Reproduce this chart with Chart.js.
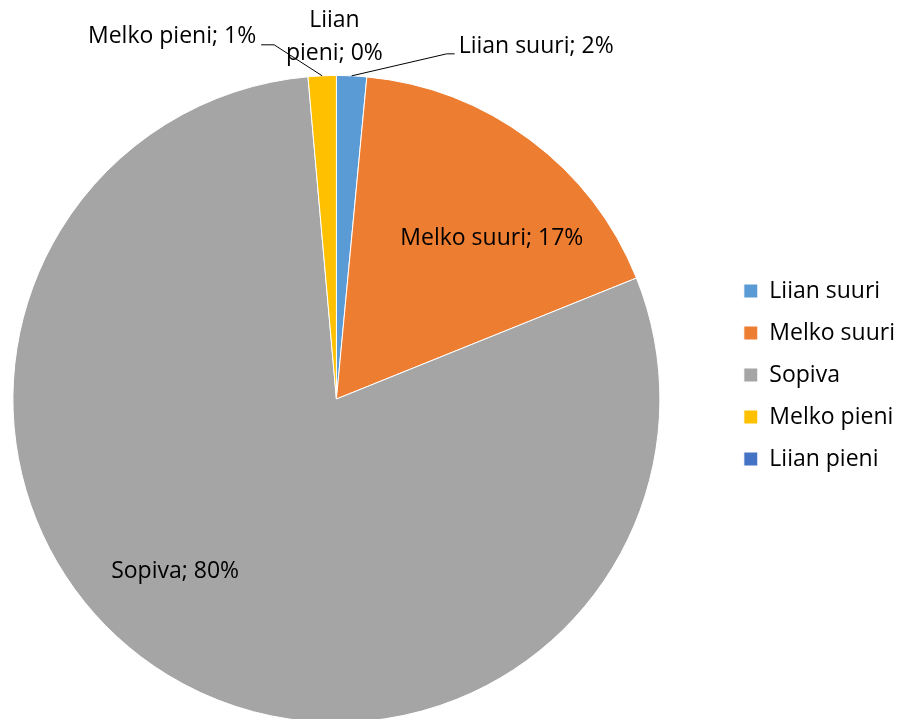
<!DOCTYPE html>
<html>
<head>
<meta charset="utf-8">
<script src="https://cdn.jsdelivr.net/npm/chart.js@4/dist/chart.umd.min.js"></script>
<style>
  html, body { margin: 0; padding: 0; background: #fff; overflow: hidden; width: 903px; height: 719px; }
  /* the pie runs past the left/bottom of the picture, so the canvas is a bit larger than the page */
  #wrap { position: absolute; left: -52px; top: 0; width: 957px; height: 741px; }
</style>
</head>
<body>
<div id="wrap"><canvas id="pieChart"></canvas></div>
<script>
// Pie data
const categories = ["Liian suuri", "Melko suuri", "Sopiva", "Melko pieni", "Liian pieni"];
const shares = [1.5, 17.4, 79.7, 1.4, 0.0]; // percent
const percentLabels = ["2%", "17%", "80%", "1%", "0%"];
const sliceColors = ["#5B9BD5", "#ED7D31", "#A5A5A5", "#FFC000", "#4472C4"];

const FONT = "'Open Sans', sans-serif";
const FONT_SIZE = 23;

// inside labels: nudge from 0.7r on the mid angle
const insideLabels = {
  1: { dx: 20, dy: 21 },
  2: { dx: -43, dy: -21 },
};
// outside labels with leader lines, relative to slice mid point on the rim
const outsideLabels = {
  0: { lines: ["Liian suuri; 2%"], dx: 107, dy: -29, align: "left", leader: [[95, -22], [103, -22]] },
  3: { lines: ["Melko pieni; 1%"], dx: -66, dy: -39, align: "right", leader: [[-48, -31], [-61, -31]] },
  4: { lines: ["Liian", "pieni; 0%"], dx: -2, dy: -55, align: "center", leader: null },
};

const pieLabels = {
  id: "pieLabels",
  afterDatasetsDraw(chart) {
    const ctx = chart.ctx;
    const arcs = chart.getDatasetMeta(0).data;
    ctx.save();
    ctx.font = FONT_SIZE + "px " + FONT;
    ctx.fillStyle = "#000";
    ctx.textBaseline = "middle";
    arcs.forEach((arc, i) => {
      const mid = (arc.startAngle + arc.endAngle) / 2;
      const text = categories[i] + "; " + percentLabels[i];
      const out = outsideLabels[i];
      if (!out) {
        const r = arc.outerRadius * 0.7;
        const nudge = insideLabels[i] || { dx: 0, dy: 0 };
        ctx.textAlign = "center";
        ctx.fillText(text, arc.x + Math.cos(mid) * r + nudge.dx, arc.y + Math.sin(mid) * r + nudge.dy);
        return;
      }
      const ax = arc.x + Math.cos(mid) * arc.outerRadius;
      const ay = arc.y + Math.sin(mid) * arc.outerRadius;
      if (out.leader) {
        ctx.beginPath();
        ctx.strokeStyle = "#000";
        ctx.lineWidth = 1;
        ctx.moveTo(ax, ay);
        out.leader.forEach(p => ctx.lineTo(ax + p[0], ay + p[1]));
        ctx.stroke();
      }
      ctx.textAlign = out.align;
      out.lines.forEach((ln, k) => {
        ctx.fillText(ln, ax + out.dx, ay + out.dy + k * 33);
      });
    });
    ctx.restore();
  }
};

// lift the legend a bit so it sits where the original has it
const legendShift = {
  id: "legendShift",
  afterLayout(chart) {
    chart.legend.top -= 24;
    chart.legend.bottom -= 24;
  }
};

const pieCtx = document.getElementById("pieChart").getContext("2d");
new Chart(pieCtx, {
  type: "pie",
  data: {
    labels: categories,
    datasets: [{
      data: shares,
      backgroundColor: sliceColors,
      borderColor: "#fff",
      borderWidth: 1,
    }],
  },
  options: {
    responsive: true,
    maintainAspectRatio: false,
    animation: false,
    layout: { padding: { left: 0, top: 75, right: 0, bottom: 18 } },
    plugins: {
      legend: {
        position: "right",
        labels: {
          font: { family: FONT, size: FONT_SIZE },
          color: "#000",
          boxWidth: 14,
          boxHeight: 14,
          padding: 19,
        },
      },
      tooltip: { enabled: false },
    },
  },
  plugins: [pieLabels, legendShift],
});
</script>
</body>
</html>
